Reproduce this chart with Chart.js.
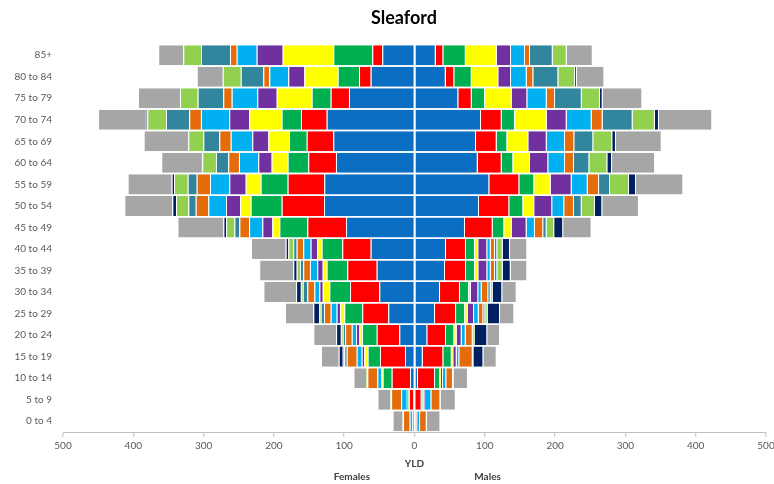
<!DOCTYPE html>
<html>
<head>
<meta charset="utf-8">
<title>Sleaford YLD</title>
<script src="https://cdn.jsdelivr.net/npm/chart.js@4/dist/chart.umd.min.js"></script>
<style>
  html, body { margin: 0; padding: 0; background: #ffffff; }
  #wrap { width: 774px; height: 484px; position: relative; }
</style>
</head>
<body>
<div id="wrap"><canvas id="chart"></canvas></div>
<script>
// Age bands, oldest at the top
const ageGroups = ['85+', '80 to 84', '75 to 79', '70 to 74', '65 to 69', '60 to 64',
  '55 to 59', '50 to 54', '45 to 49', '40 to 44', '35 to 39', '30 to 34',
  '25 to 29', '20 to 24', '15 to 19', '10 to 14', '5 to 9', '0 to 4'];

// Axis ticks (absolute YLD either side of zero)
const xTicks = [-500, -400, -300, -200, -100, 0, 100, 200, 300, 400, 500];

// Females: YLD per cause group, one value per age band (top to bottom)
const femBlue   = [45.8, 62.3, 93.2, 124.9, 115.5, 111.7, 128.3, 128.7, 97.4, 62.3, 53.8, 50.0, 37.3, 21.6, 13.5, 6.4, 2.0, 1.0];
const femRed    = [14.2, 16.6, 26.0, 36.6, 37.8, 39.4, 52.1, 60.2, 55.0, 40.4, 41.8, 41.7, 37.0, 32.1, 35.6, 26.0, 6.0, 1.5];
const femGreen  = [55.5, 30.3, 27.0, 27.5, 25.2, 29.3, 38.4, 44.1, 39.8, 29.3, 29.3, 29.4, 25.6, 20.9, 17.5, 12.8, 1.0, 0.5];
const femYellow = [72.0, 47.5, 49.8, 46.1, 29.4, 22.8, 21.3, 15.2, 10.0, 6.3, 5.7, 9.4, 6.1, 3.8, 4.8, 1.4, 0.5, 0.3];
const femPurple = [37.0, 22.8, 27.6, 28.4, 22.8, 19.0, 23.3, 19.9, 14.2, 9.4, 7.7, 4.8, 4.7, 4.7, 3.7, 0.5, 1.5, 0.3];
const femSky    = [28.4, 27.0, 36.4, 40.3, 30.7, 27.5, 27.5, 25.2, 18.9, 10.5, 10.4, 7.1, 8.5, 6.1, 7.1, 5.7, 8.0, 3.3];
const femOrange = [9.5, 8.5, 12.0, 16.6, 16.2, 15.2, 18.9, 17.9, 13.8, 9.4, 9.5, 10.0, 9.5, 9.5, 14.2, 14.2, 14.2, 9.4];
const femTeal   = [41.3, 32.1, 36.4, 33.1, 22.8, 17.5, 12.8, 10.5, 7.1, 4.8, 4.7, 6.5, 4.7, 3.3, 3.4, 0.5, 0.5, 0.3];
const femLime   = [25.2, 25.6, 25.2, 26.6, 21.3, 19.5, 19.5, 17.5, 11.8, 7.1, 4.7, 2.8, 2.4, 2.8, 2.3, 1.4, 0.5, 0.3];
const femNavy   = [0, 0, 0, 2.0, 0.5, 0.5, 3.3, 5.3, 3.8, 3.7, 4.8, 6.7, 8.1, 6.7, 5.7, 0, 0, 0];
const femGrey   = [35.6, 37.0, 59.7, 68.0, 63.0, 57.8, 62.6, 68.3, 65.4, 49.4, 48.4, 46.5, 40.3, 32.3, 25.2, 17.9, 18.5, 14.2];

// Males: YLD per cause group, one value per age band (top to bottom)
const maleBlue   = [30.2, 44.4, 62.3, 94.6, 87.5, 89.9, 106.4, 91.7, 71.8, 44.8, 43.4, 36.3, 29.2, 18.2, 11.7, 5.0, 0.5, 2.0];
const maleRed    = [10.8, 12.2, 19.1, 29.4, 29.4, 34.1, 42.7, 43.1, 39.4, 28.4, 29.9, 28.4, 29.9, 26.6, 29.3, 24.2, 9.5, 1.0];
const maleGreen  = [31.9, 24.8, 18.9, 18.9, 15.1, 16.5, 21.3, 19.9, 16.5, 12.8, 12.8, 12.8, 12.8, 11.8, 11.9, 7.1, 2.0, 0.3];
const maleYellow = [44.1, 37.8, 38.0, 45.1, 29.9, 23.8, 23.3, 15.6, 10.5, 4.7, 4.7, 2.8, 3.8, 3.4, 2.3, 1.4, 1.0, 0.3];
const malePurple = [20.3, 18.1, 22.2, 28.4, 26.2, 26.0, 29.9, 25.6, 21.3, 12.8, 12.8, 10.4, 9.0, 7.1, 4.8, 2.8, 2.0, 0.3];
const maleSky    = [19.9, 22.3, 27.6, 35.6, 26.0, 23.8, 22.8, 17.1, 11.8, 4.8, 4.8, 4.8, 6.7, 5.7, 3.7, 4.7, 9.0, 4.0];
const maleOrange = [7.1, 9.4, 11.8, 15.6, 13.2, 12.8, 16.1, 13.8, 11.8, 6.1, 6.1, 9.4, 6.5, 10.0, 19.1, 9.5, 12.8, 9.5];
const maleTeal   = [32.3, 35.6, 38.0, 42.7, 27.0, 21.8, 15.6, 11.0, 4.8, 3.3, 3.3, 3.4, 2.8, 1.8, 0.5, 0.5, 0.3, 0.2];
const maleLime   = [19.9, 23.8, 26.0, 31.7, 27.0, 25.6, 27.0, 18.9, 10.8, 7.7, 7.7, 2.8, 3.4, 1.4, 0.5, 0.5, 0.3, 0.2];
const maleNavy   = [0, 2.4, 3.8, 5.7, 5.3, 6.7, 10.0, 10.4, 12.8, 10.4, 11.4, 13.7, 17.5, 17.5, 14.2, 0, 0, 0];
const maleGrey   = [37.0, 39.3, 56.3, 75.8, 65.0, 61.2, 67.3, 52.2, 40.4, 24.6, 23.5, 20.5, 20.3, 18.1, 18.9, 20.3, 21.3, 19.0];

// Cause groups in stacking order, from the centre outwards
const groups = [
  { key: 'blue',   color: '#0A6FC2', fem: femBlue,   male: maleBlue },
  { key: 'red',    color: '#FF0000', fem: femRed,    male: maleRed },
  { key: 'green',  color: '#00B050', fem: femGreen,  male: maleGreen },
  { key: 'yellow', color: '#FFFF00', fem: femYellow, male: maleYellow },
  { key: 'purple', color: '#7030A0', fem: femPurple, male: malePurple },
  { key: 'sky',    color: '#00B0F0', fem: femSky,    male: maleSky },
  { key: 'orange', color: '#E46C0A', fem: femOrange, male: maleOrange },
  { key: 'teal',   color: '#31859C', fem: femTeal,   male: maleTeal },
  { key: 'lime',   color: '#92D050', fem: femLime,   male: maleLime },
  { key: 'navy',   color: '#002060', fem: femNavy,   male: maleNavy },
  { key: 'grey',   color: '#A6A6A6', fem: femGrey,   male: maleGrey }
];

const FONT = "Lato, 'Open Sans', 'Liberation Sans', sans-serif";
const TEXT = '#595959';
const AXIS = '#BFBFBF';

const datasets = [];
groups.forEach(g => {
  datasets.push({
    label: 'Females ' + g.key,
    data: g.fem.map(v => -v),
    backgroundColor: g.color,
    stack: 'pyramid'
  });
  datasets.push({
    label: 'Males ' + g.key,
    data: g.male,
    backgroundColor: g.color,
    stack: 'pyramid'
  });
});

// Chart heading plus the sex labels under the axis title
const headings = {
  id: 'headings',
  afterDraw(chart) {
    const { ctx, scales: { x } } = chart;
    ctx.save();
    ctx.textAlign = 'center';
    ctx.textBaseline = 'middle';
    ctx.font = 'bold 18px ' + FONT;
    ctx.fillStyle = '#000000';
    ctx.fillText('Sleaford', x.getPixelForValue(-15), 18.5);
    ctx.font = 'bold 10px ' + FONT;
    ctx.fillStyle = '#404040';
    ctx.fillText('Females', x.getPixelForValue(-89), 477);
    ctx.fillText('Males', x.getPixelForValue(104), 477);
    ctx.restore();
  }
};

new Chart(document.getElementById('chart'), {
  type: 'bar',
  data: { labels: ageGroups, datasets },
  plugins: [headings],
  options: {
    indexAxis: 'y',
    responsive: true,
    maintainAspectRatio: false,
    animation: false,
    layout: { padding: { left: 0, right: 8, top: 44.4, bottom: 0 } },
    datasets: {
      bar: {
        categoryPercentage: 1,
        barPercentage: 0.93,
        borderWidth: { left: 1, right: 1, top: 0, bottom: 0 },
        borderColor: 'rgba(255,255,255,0.75)'
      }
    },
    plugins: {
      legend: { display: false },
      tooltip: { enabled: false },
      title: { display: false }
    },
    scales: {
      x: {
        stacked: true,
        min: -500,
        max: 500,
        afterBuildTicks(scale) {
          scale.ticks = xTicks.map(v => ({ value: v }));
        },
        afterFit(scale) {
          scale.height = 52;
          scale.paddingLeft = 0;
          scale.paddingRight = 0;
        },
        ticks: {
          color: TEXT,
          font: { family: FONT, size: 10 },
          padding: 3,
          maxRotation: 0,
          autoSkip: false,
          callback: v => String(Math.abs(v))
        },
        grid: {
          z: 1,
          color: ctx => (ctx.tick && ctx.tick.value === 0) ? '#FFFFFF' : 'rgba(0,0,0,0)',
          lineWidth: 1.5,
          drawTicks: true,
          tickLength: 5,
          tickColor: AXIS,
          tickWidth: 1
        },
        border: { display: true, color: AXIS, width: 1, z: 2 },
        title: {
          display: true,
          text: 'YLD',
          color: '#404040',
          font: { family: FONT, size: 10, weight: 'bold' },
          padding: { top: 0, bottom: 14.7 }
        }
      },
      y: {
        stacked: true,
        afterFit(scale) {
          scale.width = 63;
          scale.paddingTop = 0;
          scale.paddingBottom = 0;
        },
        ticks: {
          color: TEXT,
          font: { family: FONT, size: 10 },
          padding: 11,
          autoSkip: false
        },
        grid: { display: false, drawTicks: false },
        border: { display: false }
      }
    }
  }
});
</script>
</body>
</html>
